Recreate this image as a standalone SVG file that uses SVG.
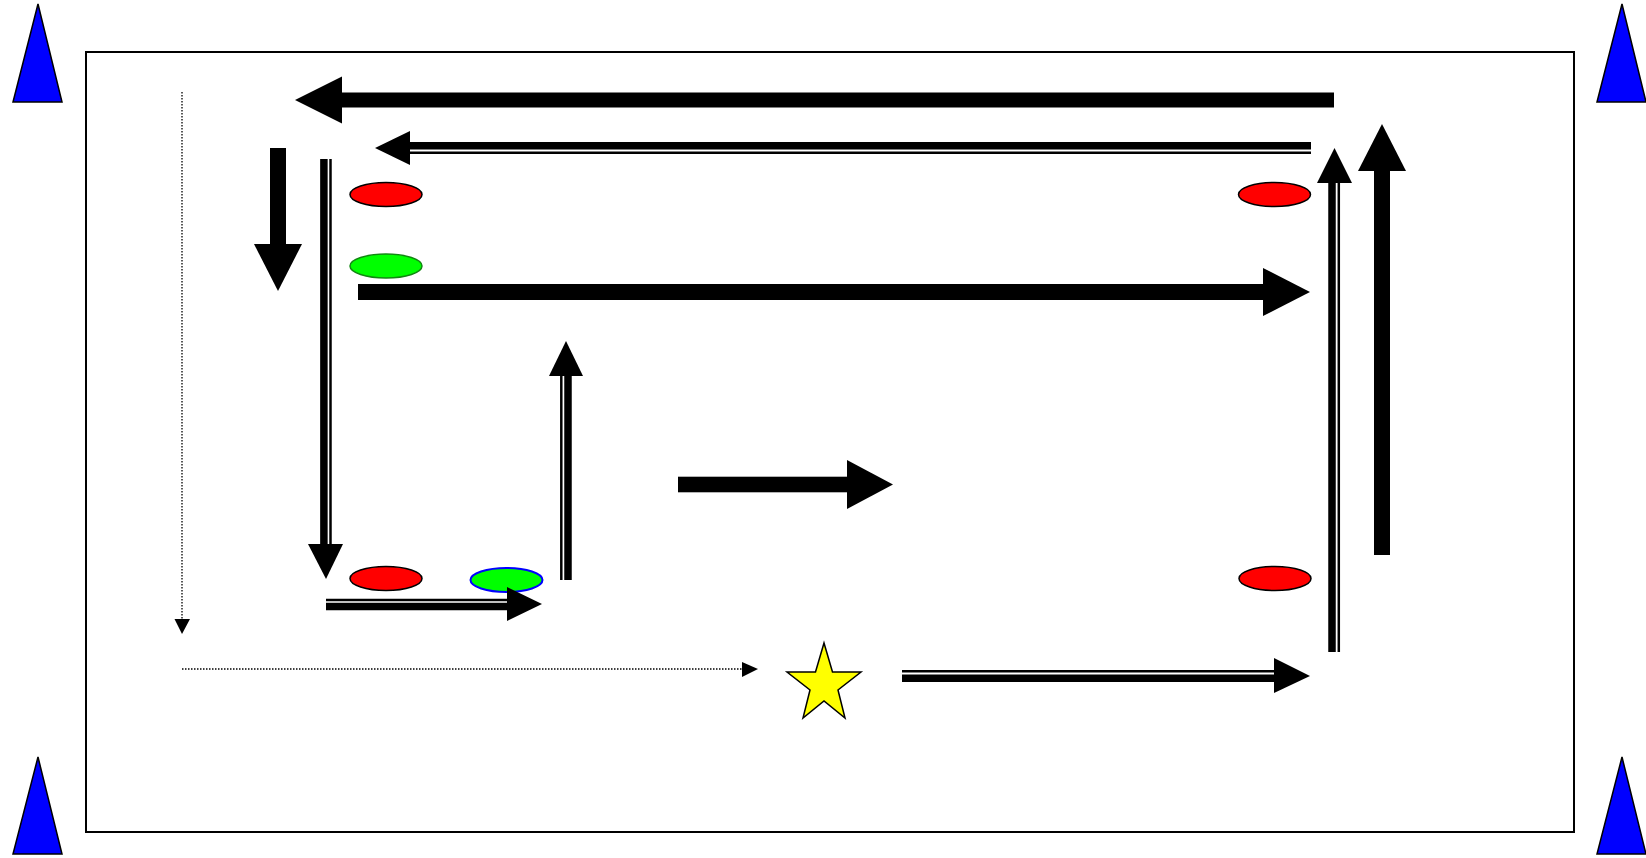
<svg xmlns="http://www.w3.org/2000/svg" width="1646" height="858" viewBox="0 0 1646 858">
<style>
.frame{fill:none;stroke:#000;stroke-width:2}
.cone{fill:#0000ff;stroke:#000;stroke-width:1.5;stroke-linejoin:miter}
.red{fill:#ff0000;stroke:#000;stroke-width:1.5}
.green{fill:#00ff00;stroke:#118811;stroke-width:1.5}
.greenb{fill:#00ff00;stroke:#0000ff;stroke-width:2}
.star{fill:#ffff00;stroke:#000;stroke-width:1.5}
.solid{fill:#000;stroke:none}
.thick{stroke:#000;stroke-width:7.5;fill:none}
.thin{stroke:#000;stroke-width:2.5;fill:none}
.dot{stroke:#000;stroke-width:1.3;stroke-dasharray:1.5 1.5;fill:none}
</style>
<rect width="1646" height="858" fill="#fff"/>
<g id="frame"><rect class="frame" x="86" y="52" width="1488" height="780"/></g>
<g id="cone-tl"><polygon class="cone" points="38,4 13,102 62,102"/></g>
<g id="cone-tr"><polygon class="cone" points="1622,4 1597,102 1646,102"/></g>
<g id="cone-bl"><polygon class="cone" points="38,757 13,854 62,854"/></g>
<g id="cone-br"><polygon class="cone" points="1622,757 1597,854 1646,854"/></g>
<g id="marker-red-1"><ellipse class="red" cx="386" cy="194.5" rx="36" ry="12"/></g>
<g id="marker-green-1"><ellipse class="green" cx="386" cy="266" rx="36" ry="12"/></g>
<g id="marker-red-2"><ellipse class="red" cx="1274.5" cy="194.5" rx="36" ry="12"/></g>
<g id="marker-red-3"><ellipse class="red" cx="386" cy="578.5" rx="36" ry="12"/></g>
<g id="marker-green-2"><ellipse class="greenb" cx="506.5" cy="580" rx="36" ry="12"/></g>
<g id="marker-red-4"><ellipse class="red" cx="1275" cy="578.5" rx="36" ry="12"/></g>
<g id="star"><polygon class="star" points="824,643 832.5,672 861,672 838,690 845,718 824,701 803,718 810,690 787,672 815.5,672"/></g>
<g id="connectors">
  <!-- top thick leftward -->
  <rect class="solid" x="341" y="92.5" width="993" height="15"/>
  <polygon class="solid" points="295,100 342,76.5 342,123.5"/>
  <!-- double leftward -->
  <line class="thick" x1="409" y1="145.8" x2="1311" y2="145.8"/>
  <line class="thin" x1="409" y1="152.8" x2="1311" y2="152.8"/>
  <polygon class="solid" points="375,148 410,131 410,165"/>
  <!-- thick down left -->
  <rect class="solid" x="270" y="148" width="16" height="97"/>
  <polygon class="solid" points="254,244 302,244 278,291"/>
  <!-- double down -->
  <line class="thick" x1="323.9" y1="159" x2="323.9" y2="545"/>
  <line class="thin" x1="330.5" y1="159" x2="330.5" y2="545"/>
  <polygon class="solid" points="308,544 343,544 326,579"/>
  <!-- thick right upper -->
  <rect class="solid" x="358" y="284" width="906" height="16"/>
  <polygon class="solid" points="1263,268 1263,316 1310,292"/>
  <!-- double right lower-left -->
  <line class="thin" x1="326" y1="600" x2="508" y2="600"/>
  <line class="thick" x1="326" y1="606.5" x2="508" y2="606.5"/>
  <polygon class="solid" points="507,587 507,621 542,604"/>
  <!-- double up middle -->
  <line class="thin" x1="561.3" y1="580" x2="561.3" y2="375"/>
  <line class="thick" x1="568" y1="580" x2="568" y2="375"/>
  <polygon class="solid" points="566,341 549,376 583,376"/>
  <!-- thick right middle -->
  <rect class="solid" x="678" y="476.7" width="170" height="15.6"/>
  <polygon class="solid" points="847,460 847,509 893,484.5"/>
  <!-- double up right -->
  <line class="thick" x1="1332" y1="652" x2="1332" y2="182"/>
  <line class="thin" x1="1338.8" y1="652" x2="1338.8" y2="182"/>
  <polygon class="solid" points="1334.5,148 1317,183 1352,183"/>
  <!-- thick up right -->
  <rect class="solid" x="1374" y="170" width="16" height="385"/>
  <polygon class="solid" points="1382,124 1358,171 1406,171"/>
  <!-- dotted vertical -->
  <line class="dot" x1="182" y1="92" x2="182" y2="620"/>
  <polygon class="solid" points="174.5,619 190,619 182,634"/>
  <!-- dotted horizontal -->
  <line class="dot" x1="182" y1="669" x2="743" y2="669"/>
  <polygon class="solid" points="742,662 742,677 758,669"/>
  <!-- double right bottom -->
  <line class="thin" x1="902" y1="671.2" x2="1275" y2="671.2"/>
  <line class="thick" x1="902" y1="678.3" x2="1275" y2="678.3"/>
  <polygon class="solid" points="1274,658 1274,693 1310,676"/>
</g>
</svg>
